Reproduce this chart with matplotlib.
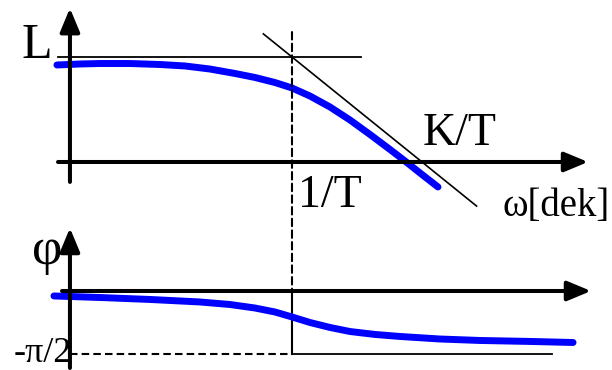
import numpy as np
import matplotlib
matplotlib.use("Agg")
import matplotlib.pyplot as plt
from matplotlib.patches import ConnectionPatch

plt.rcParams['font.family'] = ['Liberation Serif', 'DejaVu Serif']

# --- amplitude plot: log10(w*T) in decades, L in dB ---
L_level = 20.0
lgw_mag = [-1.808, -1.631, -1.477, -1.246, -1.015, -0.823, -0.631, -0.438, -0.285,
           -0.131, 0.0, 0.138, 0.292, 0.446, 0.600, 0.754, 0.869, 0.985, 1.123]
L_mag = [18.48, 18.67, 18.76, 18.76, 18.57, 18.29, 17.71, 16.86, 16.10,
         15.14, 14.10, 12.57, 10.48, 8.00, 5.24, 2.38, 0.19, -2.10, -4.76]

# asymptote of slope -20 dB/dec through (1/T, L)
lgw_asym = [-0.22, 1.42]
L_asym = [24.4, -8.4]

# --- phase plot: phi in degrees ---
lgw_ph = [-1.831, -1.477, -1.092, -0.708, -0.477, -0.285, -0.131, 0.0, 0.138,
          0.292, 0.446, 0.638, 0.831, 1.138, 1.446, 1.831, 2.162]
phi_deg = [-7.1, -9.3, -12.1, -15.7, -19.3, -24.3, -30.0, -37.1, -45.0,
           -52.1, -57.9, -62.1, -65.0, -68.6, -70.7, -72.1, -73.6]
phi_min = -90.0

BLUE = "#0000ff"
xlim = (-2.246, 2.4615)

fig = plt.figure(figsize=(6.12, 3.70), dpi=100)
ax1 = fig.add_axes([0, 1 - 215 / 370, 1, 215 / 370])
ax2 = fig.add_axes([0, 0, 1, 155 / 370])
ax1.set_xlim(*xlim)
ax1.set_ylim(-10.1, 30.86)
ax2.set_xlim(*xlim)
ax2.set_ylim(-112.9, 108.6)
for ax in (ax1, ax2):
    ax.set_axis_off()


def axis_arrow(ax, start, tip):
    ax.annotate("", xy=tip, xytext=start,
                arrowprops=dict(arrowstyle="-|>,head_length=0.72,head_width=0.3",
                                lw=2.9, color="black", shrinkA=0, shrinkB=0,
                                mutation_scale=20))


x_yaxis = -1.708

# amplitude plot
axis_arrow(ax1, (x_yaxis, -3.8), (x_yaxis, 29.3))
axis_arrow(ax1, (-1.80, 0), (2.277, 0))
ax1.plot([-1.80, 0.531], [L_level, L_level], color="black", lw=1.3)
ax1.plot(lgw_asym, L_asym, color="black", lw=1.2)
ax1.plot(lgw_mag, L_mag, color=BLUE, lw=5, solid_capstyle="round", solid_joinstyle="round")

ax1.text(-1.846, 19.8, "L", ha="right", va="baseline", fontsize=36)
ax1.text(1.008, 3.24, "K/T", ha="left", va="baseline", fontsize=33)
ax1.text(0.046, -8.57, "1/T", ha="left", va="baseline", fontsize=33)
ax1.text(1.623, -10.3, "ω[dek]", ha="left", va="baseline", fontsize=28)

# phase plot
axis_arrow(ax2, (x_yaxis, -110), (x_yaxis, 90))
axis_arrow(ax2, (-1.769, 0), (2.30, 0))
ax2.plot([x_yaxis, 0], [phi_min, phi_min], color="black", lw=1.5, dashes=(3.6, 2))
ax2.plot([0, 0], [0, phi_min], color="black", lw=1.5)
ax2.plot([0, 2.0], [phi_min, phi_min], color="black", lw=1.3)
ax2.plot(lgw_ph, phi_deg, color=BLUE, lw=5, solid_capstyle="round", solid_joinstyle="round")

ax2.text(-1.77, 57, "φ", ha="right", va="center", fontsize=38)
ax2.text(-1.69, phi_min, "-π/2", ha="right", va="center", fontsize=26)

# dashed line at the corner frequency, spanning both plots
con = ConnectionPatch(xyA=(0, 24.76), coordsA=ax1.transData,
                      xyB=(0, 0), coordsB=ax2.transData,
                      color="black", lw=1.5, linestyle=(0, (3.6, 2)))
fig.add_artist(con)

fig.savefig("out.png", dpi=100, facecolor="white")
